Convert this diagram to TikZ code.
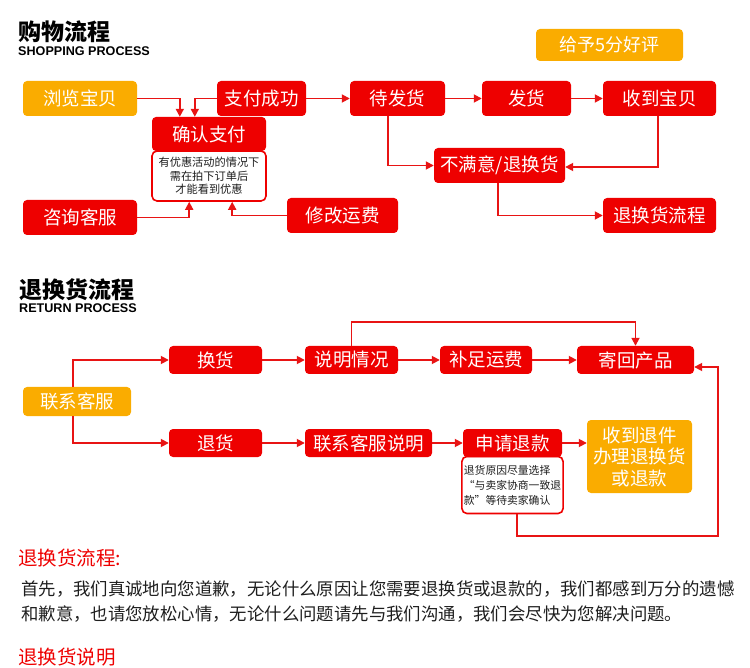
\documentclass[tikz,border=0pt]{standalone}
\usepackage{fontspec}
\setmainfont{Noto Sans CJK SC}
\newfontfamily\lat{Liberation Sans}
\usetikzlibrary{arrows.meta,calc}
\definecolor{boxred}{RGB}{238,0,0}
\definecolor{boxorange}{RGB}{250,172,0}
\definecolor{linered}{RGB}{232,20,20}
\definecolor{txt}{RGB}{30,30,30}
\begin{document}
\begin{tikzpicture}[x=1pt,y=-1pt,
  rbox/.style={fill=boxred, rounded corners=4pt, text=white, font=\fontsize{18.5}{22}\selectfont, inner sep=0pt, align=center},
  obox/.style={rbox, fill=boxorange},
  sz/.style 2 args={minimum width=#1pt, minimum height=#2pt},
  note/.style={draw=boxred, line width=1.6pt, fill=white, rounded corners=5pt, inner sep=0pt, text=txt},
  arr/.style={draw=linered, line width=1.7pt, -{Triangle[length=8pt,width=8pt]}},
  ttl/.style={anchor=west, inner sep=0pt, text=black, font=\fontsize{23}{24}\selectfont\bfseries},
  sub/.style={anchor=west, inner sep=0pt, text=black, font=\lat\fontsize{12.6}{13}\selectfont\bfseries},
  redhead/.style={anchor=west, inner sep=0pt, text=boxred, font=\fontsize{19.5}{20}\selectfont},
  para/.style={anchor=west, inner sep=0pt, text=txt, font=\fontsize{17.4}{18}\selectfont},
]
\useasboundingbox (0,0) rectangle (750,668);

% ---------- Shopping process ----------
\node[ttl] (t1) at (18,32) {购物流程};
\node[sub] (s1) at (18,51.5) {SHOPPING PROCESS};

\node[obox, sz={147}{32}, font=\fontsize{18}{20}\selectfont] (good) at (609.5,45) {给予5分好评};

\node[obox, sz={114}{35}] (browse) at (80,98.5) {浏览宝贝};
\node[rbox, sz={89}{35}] (paid) at (261.5,98.5) {支付成功};
\node[note, sz={114}{50}, font=\fontsize{11.2}{13.5}\selectfont, align=center] (note1) at (209,176) {有优惠活动的情况下\\需在拍下订单后\\才能看到优惠};
\node[rbox, sz={114}{34}] (confirm) at (209,134) {确认支付};
\node[rbox, sz={114}{35}] (consult) at (80,217.5) {咨询客服};
\node[rbox, sz={111}{35}] (modify) at (342.5,215.5) {修改运费};
\node[rbox, sz={95}{35}] (wait) at (397.5,98.5) {待发货};
\node[rbox, sz={89}{35}] (ship) at (526.5,98.5) {发货};
\node[rbox, sz={113}{35}] (recv) at (659.5,98.5) {收到宝贝};
\node[rbox, sz={131}{35}] (unsat) at (499.5,165.5) {不满意/退换货};
\node[rbox, sz={113}{35}] (retflow) at (659.5,215.5) {退换货流程};

\draw[arr] (browse.east) -| ($(confirm.north west)+(28,0)$);
\draw[arr] (paid.west) -| ($(confirm.north west)+(43,0)$);
\draw[arr] (consult.east) -| ($(note1.south west)+(38,0)$);
\draw[arr] (modify.west) -| ($(note1.south west)+(81,0)$);
\draw[arr] (paid.east) -- (wait.west);
\draw[arr] (wait.east) -- (ship.west);
\draw[arr] (ship.east) -- (recv.west);
\draw[arr] ($(wait.south west)+(38,0)$) |- (unsat.west);
\draw[arr] ($(recv.south)+(-1.5,0)$) |- ($(unsat.east)+(0,1.5)$);
\draw[arr] ($(unsat.south)+(-1.5,0)$) |- (retflow.west);

% ---------- Return process ----------
\node[ttl] (t2) at (19,289.5) {退换货流程};
\node[sub] (s2) at (19,308) {RETURN PROCESS};

\node[obox, sz={108}{29}] (contact) at (77,401.5) {联系客服};
\node[rbox, sz={93}{28}] (exch) at (215.5,360) {换货};
\node[rbox, sz={93}{28}] (retgoods) at (215.5,443) {退货};
\node[rbox, sz={93}{28}] (explain) at (351.5,360) {说明情况};
\node[rbox, sz={127}{28}] (contact2) at (368.5,443) {联系客服说明};
\node[rbox, sz={92}{28}] (fee) at (486,360) {补足运费};
\node[rbox, sz={117}{28}] (sendback) at (635.5,360) {寄回产品};
\node[note, sz={99}{57}, font=\fontsize{10.8}{15}\selectfont, align=left, inner xsep=2pt] (note2) at (512.5,485) {退货原因尽量选择\\“与卖家协商一致退\\款”等待卖家确认};
\node[rbox, sz={99}{28}] (apply) at (512.5,443) {申请退款};
\node[obox, sz={105}{73}, font=\fontsize{18.5}{21.5}\selectfont] (done) at (639.5,456.5) {收到退件\\办理退换货\\或退款};

\draw[arr] ($(contact.north west)+(50,0)$) |- (exch.west);
\draw[arr] ($(contact.south west)+(50,0)$) |- (retgoods.west);
\draw[arr] (exch.east) -- (explain.west);
\draw[arr] (explain.east) -- (fee.west);
\draw[arr] (fee.east) -- (sendback.west);
\coordinate (topline) at (0,322);
\draw[arr] (explain.north) -- (explain.north |- topline) -| (sendback.north);
\draw[arr] (retgoods.east) -- (contact2.west);
\draw[arr] (contact2.east) -- (apply.west);
\draw[arr] (apply.east) -- (apply.east -| done.west);
\coordinate (botline) at (718,536);
\draw[arr] ($(note2.south)+(4.5,0)$) |- (botline) |- ($(sendback.east)+(0,7)$);

% ---------- Text ----------
\node[redhead] (h1) at (18,558) {退换货流程:};
\node[para] (p1) at (21,589.5) {首先，我们真诚地向您道歉，无论什么原因让您需要退换货或退款的，我们都感到万分的遗憾};
\node[para] (p2) at (21,614.5) {和歉意，也请您放松心情，无论什么问题请先与我们沟通，我们会尽快为您解决问题。};
\node[redhead] (h2) at (18,657.5) {退换货说明};
\end{tikzpicture}
\end{document}
